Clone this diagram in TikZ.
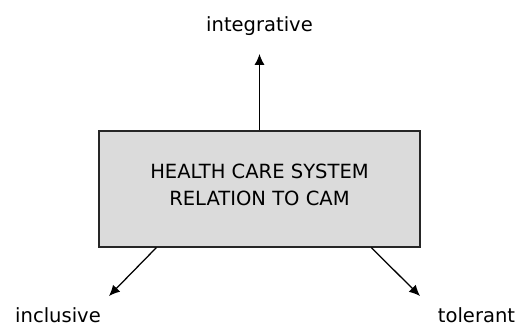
\documentclass[tikz,border=0pt]{standalone}
\usepackage{fontspec}
\setmainfont{DejaVu Sans}
\usetikzlibrary{arrows.meta,calc}

\tikzset{
	sysbox/.style={draw=black!85, fill=black!14, line width=0.8pt, minimum width=8.025cm, minimum height=2.9cm},
	boxtext/.style={align=center, font=\fontsize{13.9}{19.2}\selectfont},
	label/.style={font=\fontsize{13.9}{16}\selectfont, anchor=base, inner sep=0pt},
	relarrow/.style={line width=0.9pt, -{Latex[length=0.27cm,width=0.25cm]}}
}

\begin{document}
\begin{tikzpicture}
	\useasboundingbox (0,0) rectangle (12.95,8.175);
	\node[sysbox] (hcs) at (6.4875,3.45) {};
	\node[boxtext] (hcstext) at ([yshift=0.11cm]hcs.center) {HEALTH CARE SYSTEM\\RELATION TO CAM};
	\node[label] (integ) at (6.4875,7.38) {integrative};
	\node[label] (incl) at (1.45,0.1) {inclusive};
	\node[label] (toler) at (11.9125,0.1) {tolerant};
	% arrow ends
	\coordinate (integtip) at (6.4875,6.825);
	\coordinate (incltip) at (2.725,0.775);
	\coordinate (tolertip) at (10.5,0.775);
	\draw[relarrow] (hcs.north) -- (integtip);
	\draw[relarrow] ($(hcs.south west)!0.18!(hcs.south east)$) -- (incltip);
	\draw[relarrow] ($(hcs.south west)!0.847!(hcs.south east)$) -- (tolertip);
\end{tikzpicture}
\end{document}
